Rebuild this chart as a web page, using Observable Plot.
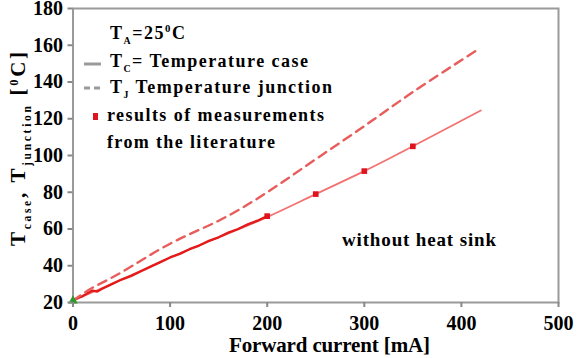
<!DOCTYPE html>
<html><head><meta charset="utf-8">
<script src="https://cdn.jsdelivr.net/npm/d3@7"></script>
<script src="https://cdn.jsdelivr.net/npm/@observablehq/plot@0.6"></script>
<style>
body{margin:0;background:#fff;}
</style></head><body>
<div id="chart"></div>
<script>
// Fitted case temperature curve (solid)
const caseFitX = [0, 50, 100, 150, 200, 250, 300, 350, 420];
const caseFitY = [21, 32.5, 44.5, 55.5, 66.5, 79, 91.5, 105, 124.5];
// Dense measured case temperature (0-200 mA)
const caseMeasX = [0, 5, 10, 15, 20, 25, 30, 40, 50, 60, 70, 80, 90, 100, 110, 120, 130, 140, 150, 160, 170, 180, 190, 200];
const caseMeasY = [21, 22.5, 23.5, 25, 26.5, 26, 27.5, 30, 32.5, 34.5, 37, 39.5, 42, 44.5, 46.5, 49, 51, 53.5, 55.5, 58, 60, 62.5, 64.5, 67];
// Junction temperature (dashed)
const juncX = [0, 20, 50, 100, 150, 200, 250, 300, 350, 415];
const juncY = [21, 28, 36.5, 52, 64.5, 80, 98, 116, 134.5, 157];
// Results of measurements from the literature
const litX = [200, 250, 300, 350];
const litY = [67, 79, 91.5, 105];
// Start point
const startX = [0];
const startY = [21];

const xTicks = [0, 100, 200, 300, 400, 500];
const yTicks = [20, 40, 60, 80, 100, 120, 140, 160, 180];

const toRows = (xs, ys) => xs.map((x, i) => ({x, y: ys[i]}));
const ff = '"Liberation Serif", "Times New Roman", "DejaVu Serif", serif';

const plot = Plot.plot({
  width: 577, height: 358,
  marginLeft: 72.5, marginRight: 19, marginTop: 8, marginBottom: 56,
  style: {fontFamily: ff, fontSize: "20px", fontWeight: "bold", color: "black", background: "white", overflow: "visible"},
  x: {domain: [0, 500]},
  y: {domain: [20, 180]},
  marks: [
    Plot.frame({stroke: "#9a9a9a", strokeWidth: 2}),
    Plot.line(toRows(caseFitX, caseFitY), {x: "x", y: "y", stroke: "#f27272", strokeWidth: 1.8, curve: "natural"}),
    Plot.line(toRows(caseMeasX, caseMeasY), {x: "x", y: "y", stroke: "#e41a1a", strokeWidth: 2.4}),
    Plot.line(toRows(juncX, juncY), {x: "x", y: "y", stroke: "#e85c5c", strokeWidth: 2.4, strokeDasharray: "9,6", curve: "natural"}),
    Plot.dot(toRows(litX, litY), {x: "x", y: "y", symbol: "square", r: 3.2, fill: "#e0141e", stroke: "none"}),
    Plot.dot(toRows(startX, startY), {x: "x", y: "y", symbol: "triangle", r: 3.5, fill: "#2a9a2a"}),
    Plot.axisX({ticks: xTicks, tickSize: 5, tickPadding: 8, stroke: "#888", strokeWidth: 2, label: null, fill: "black", fontFamily: ff, fontSize: 20, fontWeight: "bold"}),
    Plot.axisY({ticks: yTicks, tickSize: 5, tickPadding: 5, stroke: "#888", strokeWidth: 2, label: null, fill: "black", fontFamily: ff, fontSize: 20, fontWeight: "bold"})
  ]
});
document.getElementById("chart").appendChild(plot);

const svg = d3.select(plot);

function richText(g, x, y, parts, size, len, extra) {
  const t = g.append("text").attr("x", x).attr("y", y)
    .attr("text-anchor", "start")
    .style("font-family", ff).style("font-weight", "bold").style("font-size", size + "px").attr("fill", "black");
  if (len) t.attr("textLength", len).attr("lengthAdjust", "spacing");
  if (extra) extra(t);
  parts.forEach(p => {
    const ts = t.append("tspan").text(p.t);
    if (p.sub) ts.style("font-size", (size * 0.55) + "px").attr("dy", size * 0.3);
    if (p.sup) ts.style("font-size", (size * 0.6) + "px").attr("dy", -size * 0.35);
    if (p.back) ts.attr("dy", p.back);
  });
  return t;
}

// Legend
const lg = svg.append("g");
richText(lg, 110, 39, [{t: "T"}, {t: "A", sub: 1}, {t: "=25", back: -5.7}, {t: "0", sup: 1}, {t: "C", back: 6.3}], 18, 75);
lg.append("line").attr("x1", 84).attr("x2", 101).attr("y1", 64).attr("y2", 64).attr("stroke", "#9a9a9a").attr("stroke-width", 3);
richText(lg, 110, 67, [{t: "T"}, {t: "C", sub: 1}, {t: "= Temperature case", back: -5.7}], 18, 198);
lg.append("line").attr("x1", 84).attr("x2", 101).attr("y1", 88).attr("y2", 88).attr("stroke", "#9a9a9a").attr("stroke-width", 3).attr("stroke-dasharray", "6,4");
richText(lg, 110, 93, [{t: "T"}, {t: "J", sub: 1}, {t: " Temperature junction", back: -5.7}], 18, 222);
lg.append("rect").attr("x", 93).attr("y", 113).attr("width", 5).attr("height", 7).attr("fill", "#e0141e");
richText(lg, 107, 121, [{t: "results of measurements"}], 18, 217);
richText(lg, 107, 148, [{t: "from the literature"}], 18, 168);

// annotation
richText(svg, 342, 246, [{t: "without heat sink"}], 19, 154);

// X axis title
richText(svg, 229, 352, [{t: "Forward current [mA]"}], 21, 201);

// Y axis title
richText(svg, 0, 0, [{t: "T"}, {t: "case", sub: 1}, {t: ", T", back: -6.3}, {t: "junction", sub: 1}, {t: " [", back: -6.3}, {t: "0", sup: 1}, {t: "C]", back: 7.35}], 21, 194,
  t => t.attr("transform", "translate(25,246) rotate(-90)"));
</script>
</body></html>
